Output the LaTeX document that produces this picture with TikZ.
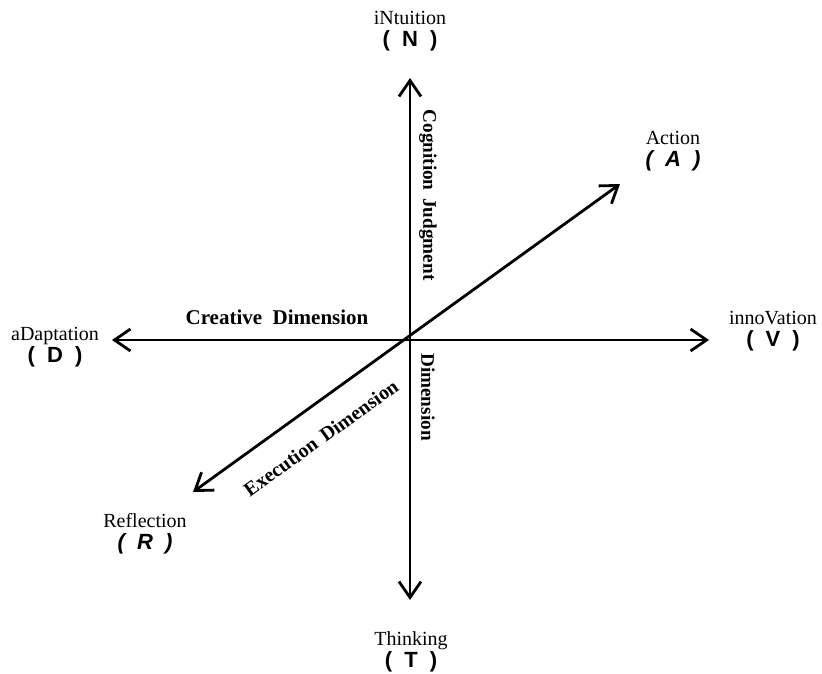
\documentclass[tikz,border=0pt]{standalone}
\usepackage{fontspec}
\setmainfont{Liberation Serif}
\newfontfamily\polefont{Liberation Sans}
\usepackage{tikz}
\usetikzlibrary{arrows.meta,positioning,calc}
\newcommand{\polelet}[1]{{\polefont\fontsize{11}{11}\selectfont\bfseries (\hspace{0.55em}#1\hspace{0.55em})}}
\newcommand{\poleletit}[1]{{\polefont\fontsize{11}{11}\selectfont\bfseries\itshape (\hspace{0.55em}#1\hspace{0.55em})}}

\begin{document}
\begin{tikzpicture}[
			x=0.5pt,y=-0.5pt,
			pole/.style={align=center,font=\fontsize{10}{11}\selectfont,inner sep=0pt},
			dim/.style={font=\fontsize{10.5}{12}\selectfont\bfseries,inner sep=1pt},
			vdim/.style={dim,font=\fontsize{9.6}{12}\selectfont\bfseries,rotate=-90},
			axis/.style={{Straight Barb[length=8pt,width=11pt]}-{Straight Barb[length=8pt,width=11pt]},line width=1.4pt}
		]
		\useasboundingbox (0,0) rectangle (822,673);
		\coordinate (o) at (410,340);
		\coordinate (ntip) at (410,78);
		\coordinate (ttip) at (410,600);
		\coordinate (dtip) at (112,340);
		\coordinate (vtip) at (709,340);
		\coordinate (rtip) at (193,492);
		\coordinate (atip) at (620,184);
		\node[pole] (intuition) at (410,31) {iNtuition\\\polelet{N}};
		\node[pole] (thinking) at (411,652) {Thinking\\\polelet{T}};
		\node[pole] (adapt) at (55,347) {aDaptation\\\polelet{D}};
		\node[pole] (innov) at (773,331) {innoVation\\\polelet{V}};
		\node[pole] (action) at (673,151) {Action\\\poleletit{A}};
		\node[pole] (reflect) at (145,534) {Reflection\\\poleletit{R}};
		\draw[axis] (ttip)--(ntip);
		\draw[axis] (dtip)--(vtip);
		\draw[axis] (rtip)--(atip);
		\node[dim] (creative) at (277,317) {Creative\hspace{0.5em}Dimension};
		\node[vdim] (cognition) at (428,195) {Cognition\hspace{0.4em}Judgment};
		\node[vdim] (cogdim) at (428,397) {Dimension};
		\node[dim,font=\fontsize{10}{12}\selectfont\bfseries,rotate=35.7] (execution) at (321,438) {Execution\hspace{0.4em}Dimension};
	\end{tikzpicture}
\end{document}
